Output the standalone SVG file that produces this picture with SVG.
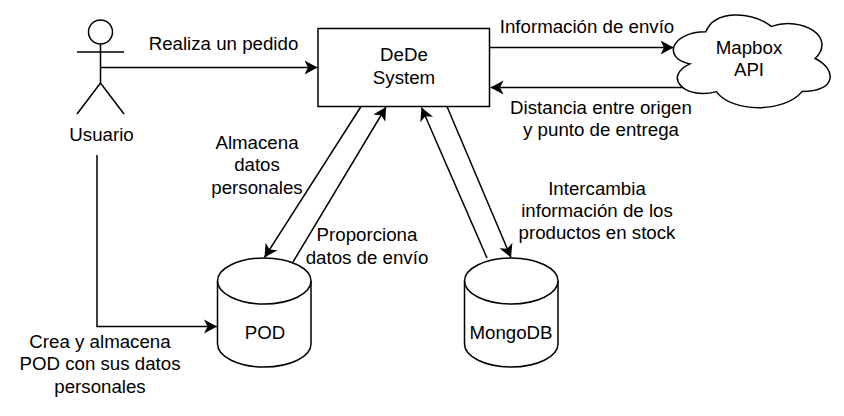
<svg xmlns="http://www.w3.org/2000/svg" width="844" height="416" viewBox="0 0 844 416">
<style>
.s{fill:#fff;stroke:#000;stroke-width:1.5}
.n{fill:none;stroke:#000;stroke-width:1.5}
.c{fill:none;stroke:#000;stroke-width:1.5;marker-end:url(#a)}
text{font-family:"Liberation Sans",Arial,sans-serif;font-size:18.7px;fill:#000;text-anchor:middle}
</style>
<defs>
<marker id="a" markerUnits="userSpaceOnUse" markerWidth="20" markerHeight="20" refX="13" refY="7" orient="auto" viewBox="0 0 20 14">
<path d="M0 0L13 7L0 14L3.500 7Z" fill="#000"/>
</marker>
</defs>
<rect width="844" height="416" fill="#fff"/>
<g id="connectors">
<path class="c" d="M100.500 67.500H317.500"/>
<path class="c" d="M489.500 47.500H673.500"/>
<path class="c" d="M685 87.500H490.500"/>
<path class="c" d="M97 155V326.500H217"/>
<path class="c" d="M361 106.500L264.500 257.500"/>
<path class="c" d="M293 262L386 107"/>
<path class="c" d="M487 258L421.500 107.500"/>
<path class="c" d="M447 106.500L511 257.500"/>
<text x="223.500" y="50">Realiza un pedido</text>
<text x="587" y="33">Información de envío</text>
<text x="601" y="114">Distancia entre origen</text>
<text x="601" y="136">y punto de entrega</text>
<text x="257" y="149">Almacena</text>
<text x="257" y="171">datos</text>
<text x="257" y="194">personales</text>
<text x="367" y="241">Proporciona</text>
<text x="367" y="264">datos de envío</text>
<text x="597" y="195">Intercambia</text>
<text x="597" y="217">información de los</text>
<text x="597" y="239">productos en stock</text>
<text x="100" y="348">Crea y almacena</text>
<text x="100" y="370">POD con sus datos</text>
<text x="100" y="393">personales</text>
</g>
<g id="usuario">
<circle class="s" cx="100.500" cy="32" r="12"/>
<path class="n" d="M100.500 44V83M77 52H124M77 114L100.500 83L124 114"/>
<text x="101.500" y="141">Usuario</text>
</g>
<g id="dede">
<rect class="s" x="318" y="28.500" width="171.500" height="78"/>
<text x="404" y="61">DeDe</text>
<text x="404" y="84">System</text>
</g>
<g id="mapbox">
<path class="s" d="M705.800 31.800C670.800 31.800 662 58.500 690 63.900C662 76.700 684.800 100.200 716.300 91.600C732 113 784.500 113 802 91.600C837 91.600 837 69.200 815.100 58.500C837 37.100 802 15.700 771.400 26.400C749.500 10.400 714.500 10.400 705.800 31.800Z"/>
<text x="749" y="54">Mapbox</text>
<text x="749" y="76">API</text>
</g>
<g id="pod">
<path class="s" d="M217.500 281A46.750 23 0 0 1 311 281V344A46.750 23 0 0 1 217.500 344Z"/>
<path class="n" d="M217.500 281A46.750 23 0 0 0 311 281"/>
<text x="265" y="339">POD</text>
</g>
<g id="mongodb">
<path class="s" d="M464.500 281A46.750 23 0 0 1 558 281V344A46.750 23 0 0 1 464.500 344Z"/>
<path class="n" d="M464.500 281A46.750 23 0 0 0 558 281"/>
<text x="511" y="339">MongoDB</text>
</g>
</svg>
